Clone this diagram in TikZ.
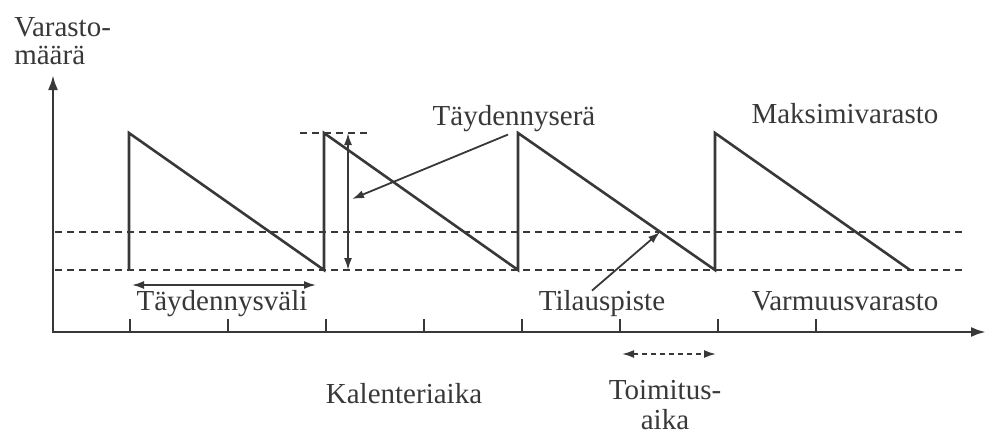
\documentclass[tikz,border=0pt]{standalone}
\usepackage{fontspec}
\setmainfont{Liberation Serif}
\usetikzlibrary{arrows.meta, positioning, calc}
\colorlet{ink}{black!78}

\begin{document}
\begin{tikzpicture}[x=1pt, y=-1pt, >={Latex[length=15pt,width=10pt]}, line width=2.6pt, draw=ink,
  font=\fontsize{29}{28}\selectfont,
  lbl/.style={anchor=base, text=ink, inner sep=0pt},
  guide/.style={dash pattern=on 7pt off 5pt, line width=2pt},
  pointer/.style={->, line width=1.8pt, >={Latex[length=12pt,width=8pt]}}]
\useasboundingbox (0,0) rectangle (987,436);
% axes
\coordinate (origin) at (53,332);
\coordinate (ytop) at (53,75);
\coordinate (xend) at (986,332);
\draw[<->] (ytop) -- (origin) -- (xend);
\foreach \x in {130,228,...,816}
  \draw (\x,332) -- (\x,319);
% safety stock, reorder level, max level
\draw[guide] (55,270) -- (965,270);
\draw[guide] (55,232) -- (965,232);
\draw[guide] (300,133) -- (368,133);
% inventory curve
\draw[line join=miter] (129,270) -- (129,133) -- (324,270) -- (324,133) -- (518,270)
  -- (518,133) -- (715,270) -- (715,133) -- (910,270);
% labels
\node[lbl, anchor=north west, align=left] (maara) at (13,16) {Varasto-\\määrä};
\node[lbl] (taydennysera) at (514,125) {Täydennyserä};
\node[lbl] (maksimi) at (845,123) {Maksimivarasto};
\node[lbl] (vali) at (222,310) {Täydennysväli};
\node[lbl] (tilaus) at (602,310) {Tilauspiste};
\node[lbl] (varmuus) at (845,310) {Varmuusvarasto};
\node[lbl] (kalenteri) at (404,403) {Kalenteriaika};
\node[lbl, anchor=north, align=center, font=\fontsize{29}{30}\selectfont] (toimitus) at (665,379) {Toimitus-\\aika};
% dimension arrows
\coordinate (eratop) at (348,133);
\coordinate (erabot) at (348,270);
\coordinate (erapoint) at (352,199);
\coordinate (tilauspoint) at (660,232);
\draw[pointer, <->] (eratop) -- (erabot);
\draw[pointer, <->] (132,285) -- (316,285);
\draw[pointer, <->, dash pattern=on 5pt off 4pt] (622,354) -- (716,354);
\draw[pointer] ([xshift=-6pt,yshift=-2pt]taydennysera.south) -- (erapoint);
\draw[pointer] ([xshift=-10pt,yshift=-2pt]tilaus.north) -- (tilauspoint);
\end{tikzpicture}
\end{document}
